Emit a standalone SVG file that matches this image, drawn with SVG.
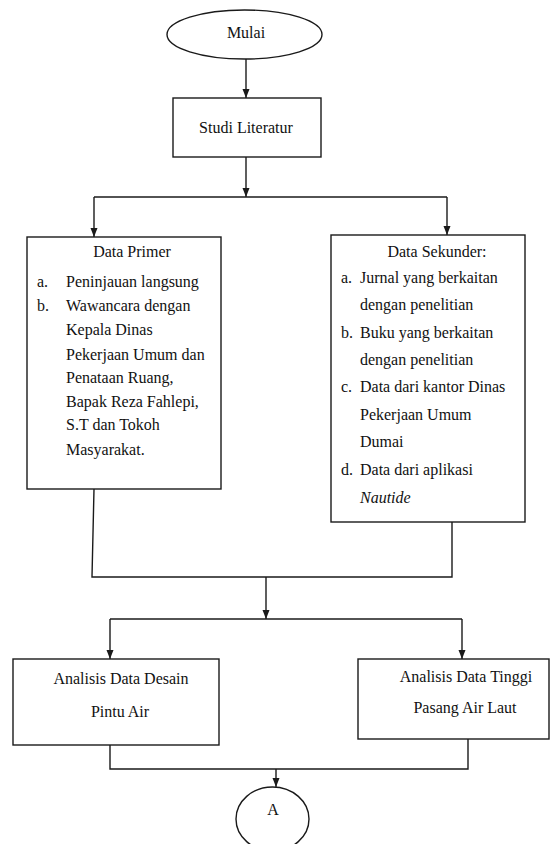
<svg xmlns="http://www.w3.org/2000/svg" width="551" height="844" viewBox="0 0 551 844">
<style>
.shape{fill:#fff;stroke:#1a1a1a;stroke-width:1.4}
.line{fill:none;stroke:#1a1a1a;stroke-width:1.4}
text{font-size:16px;fill:#111}
.c{text-anchor:middle}
</style>
<defs>
<marker id="arr" markerUnits="userSpaceOnUse" markerWidth="10" markerHeight="10" viewBox="0 0 10 10" refX="9" refY="5" orient="auto">
<path d="M0,1.5 L9,5 L0,8.5 Z" fill="#1a1a1a"/>
</marker>
</defs>
<rect width="551" height="844" fill="#fff"/>
<g id="connectors">
<path class="line" d="M246,59 V98" marker-end="url(#arr)"/>
<path class="line" d="M246,157 V197" marker-end="url(#arr)"/>
<path class="line" d="M94,197 H447"/>
<path class="line" d="M94,197 V237" marker-end="url(#arr)"/>
<path class="line" d="M447,197 V235" marker-end="url(#arr)"/>
<path class="line" d="M94,489 L92,577 H452 V522"/>
<path class="line" d="M266,577 V619" marker-end="url(#arr)"/>
<path class="line" d="M110,619 H462"/>
<path class="line" d="M110,619 V659" marker-end="url(#arr)"/>
<path class="line" d="M462,619 V659" marker-end="url(#arr)"/>
<path class="line" d="M110,745 V769 H468 V739"/>
<path class="line" d="M276,769 V787" marker-end="url(#arr)"/>
</g>
<g font-family="Liberation Serif, DejaVu Serif, serif">
<g id="mulai">
<ellipse class="shape" cx="244.5" cy="34.5" rx="77.5" ry="24.5"/>
<text class="c" x="246" y="38">Mulai</text>
</g>
<g id="studi-literatur">
<rect class="shape" x="173" y="98" width="148" height="59"/>
<text class="c" x="246" y="133">Studi Literatur</text>
</g>
<g id="data-primer">
<rect class="shape" x="27" y="237" width="194" height="252"/>
<text class="c" x="132" y="257">Data Primer</text>
<text x="37" y="287">a.</text>
<text x="66" y="287">Peninjauan langsung</text>
<text x="37" y="311">b.</text>
<text x="66" y="311">Wawancara dengan</text>
<text x="66" y="335">Kepala Dinas</text>
<text x="66" y="360">Pekerjaan Umum dan</text>
<text x="66" y="383">Penataan Ruang,</text>
<text x="66" y="407">Bapak Reza Fahlepi,</text>
<text x="66" y="430">S.T dan Tokoh</text>
<text x="66" y="455">Masyarakat.</text>
</g>
<g id="data-sekunder">
<rect class="shape" x="331" y="235" width="194" height="287"/>
<text class="c" x="437" y="257">Data Sekunder:</text>
<text x="341" y="283">a.</text>
<text x="360" y="283">Jurnal yang berkaitan</text>
<text x="360" y="310">dengan penelitian</text>
<text x="341" y="338">b.</text>
<text x="360" y="338">Buku yang berkaitan</text>
<text x="360" y="365">dengan penelitian</text>
<text x="341" y="392">c.</text>
<text x="360" y="392">Data dari kantor Dinas</text>
<text x="360" y="420">Pekerjaan Umum</text>
<text x="360" y="447">Dumai</text>
<text x="341" y="475">d.</text>
<text x="360" y="475">Data dari aplikasi</text>
<text x="360" y="503" font-style="italic">Nautide</text>
</g>
<g id="analisis-desain">
<rect class="shape" x="13" y="659" width="206" height="86"/>
<text class="c" x="121" y="684">Analisis Data Desain</text>
<text class="c" x="120" y="717">Pintu Air</text>
</g>
<g id="analisis-pasang">
<rect class="shape" x="358" y="659" width="191" height="80"/>
<text class="c" x="466" y="682">Analisis Data Tinggi</text>
<text class="c" x="465" y="713">Pasang Air Laut</text>
</g>
<g id="a">
<ellipse class="shape" cx="272.5" cy="819" rx="36.5" ry="32"/>
<text class="c" x="273" y="815">A</text>
</g>
</g>
</svg>
